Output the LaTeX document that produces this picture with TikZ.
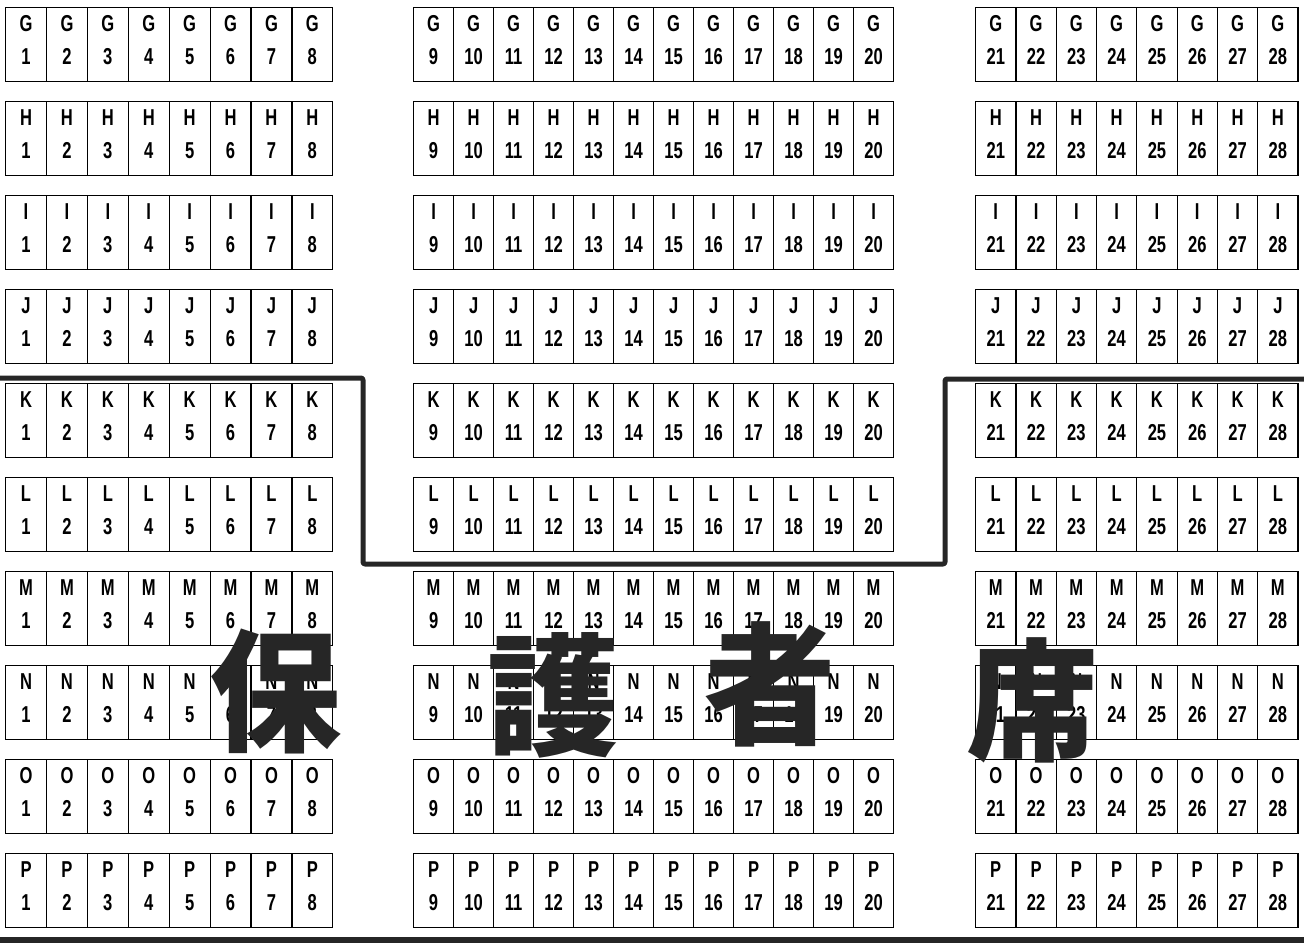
\documentclass[tikz,border=0pt]{standalone}
\usepackage{fontspec}
\newfontfamily\seatfont[FakeStretch=0.72]{Liberation Sans}
\newfontfamily\cjk{Noto Sans CJK JP}

\tikzset{
  seat/.style={draw, line width=1.2pt, minimum height=74pt, inner sep=0pt, align=center,
    text depth=10pt, anchor=north west, font=\seatfont\bfseries\fontsize{23}{33}\selectfont},
  fence/.style={line width=5pt, line join=round, rounded corners=2pt, black!85},
  brush/.style={font=\cjk\bfseries\fontsize{132}{132}\selectfont, text=black!85, inner sep=0pt}
}

\begin{document}
\begin{tikzpicture}[x=1pt,y=-1pt]
  \useasboundingbox (0,0) rectangle (1304,944);
  % Sitzreihen G bis P
  \foreach \r [count=\i from 0] in {G,H,I,J,K,L,M,N,O,P} {
    % linker Block
    \foreach \n in {1,...,8}
      \node[seat, minimum width=40.9pt] (\r\n) at ({5+40.9*(\n-1)}, {7+94*\i}) {\r\\\n};
    % mittlerer Block
    \foreach \n in {9,...,20}
      \node[seat, minimum width=40pt] (\r\n) at ({413+40*(\n-9)}, {7+94*\i}) {\r\\\n};
    % rechter Block
    \foreach \n in {21,...,28}
      \node[seat, minimum width=40.3pt] (\r\n) at ({975+40.3*(\n-21)}, {7+94*\i}) {\r\\\n};
  }
  % Abgrenzung
  \draw[fence] (0,378) -- (363,378) -- (363,564) -- (945,564) -- (945,379) -- (1304,379);
  \draw[line width=6pt, black!85] (0,940) -- (1304,940); % unterer Rand
  % Beschriftung
  \node[brush] (ho) at (275,691) {保};
  \node[brush] (go) at (553,695) {護};
  \node[brush] (sha) at (770,684) {者};
  \node[brush] (seki) at (1032,700) {席};
\end{tikzpicture}
\end{document}
